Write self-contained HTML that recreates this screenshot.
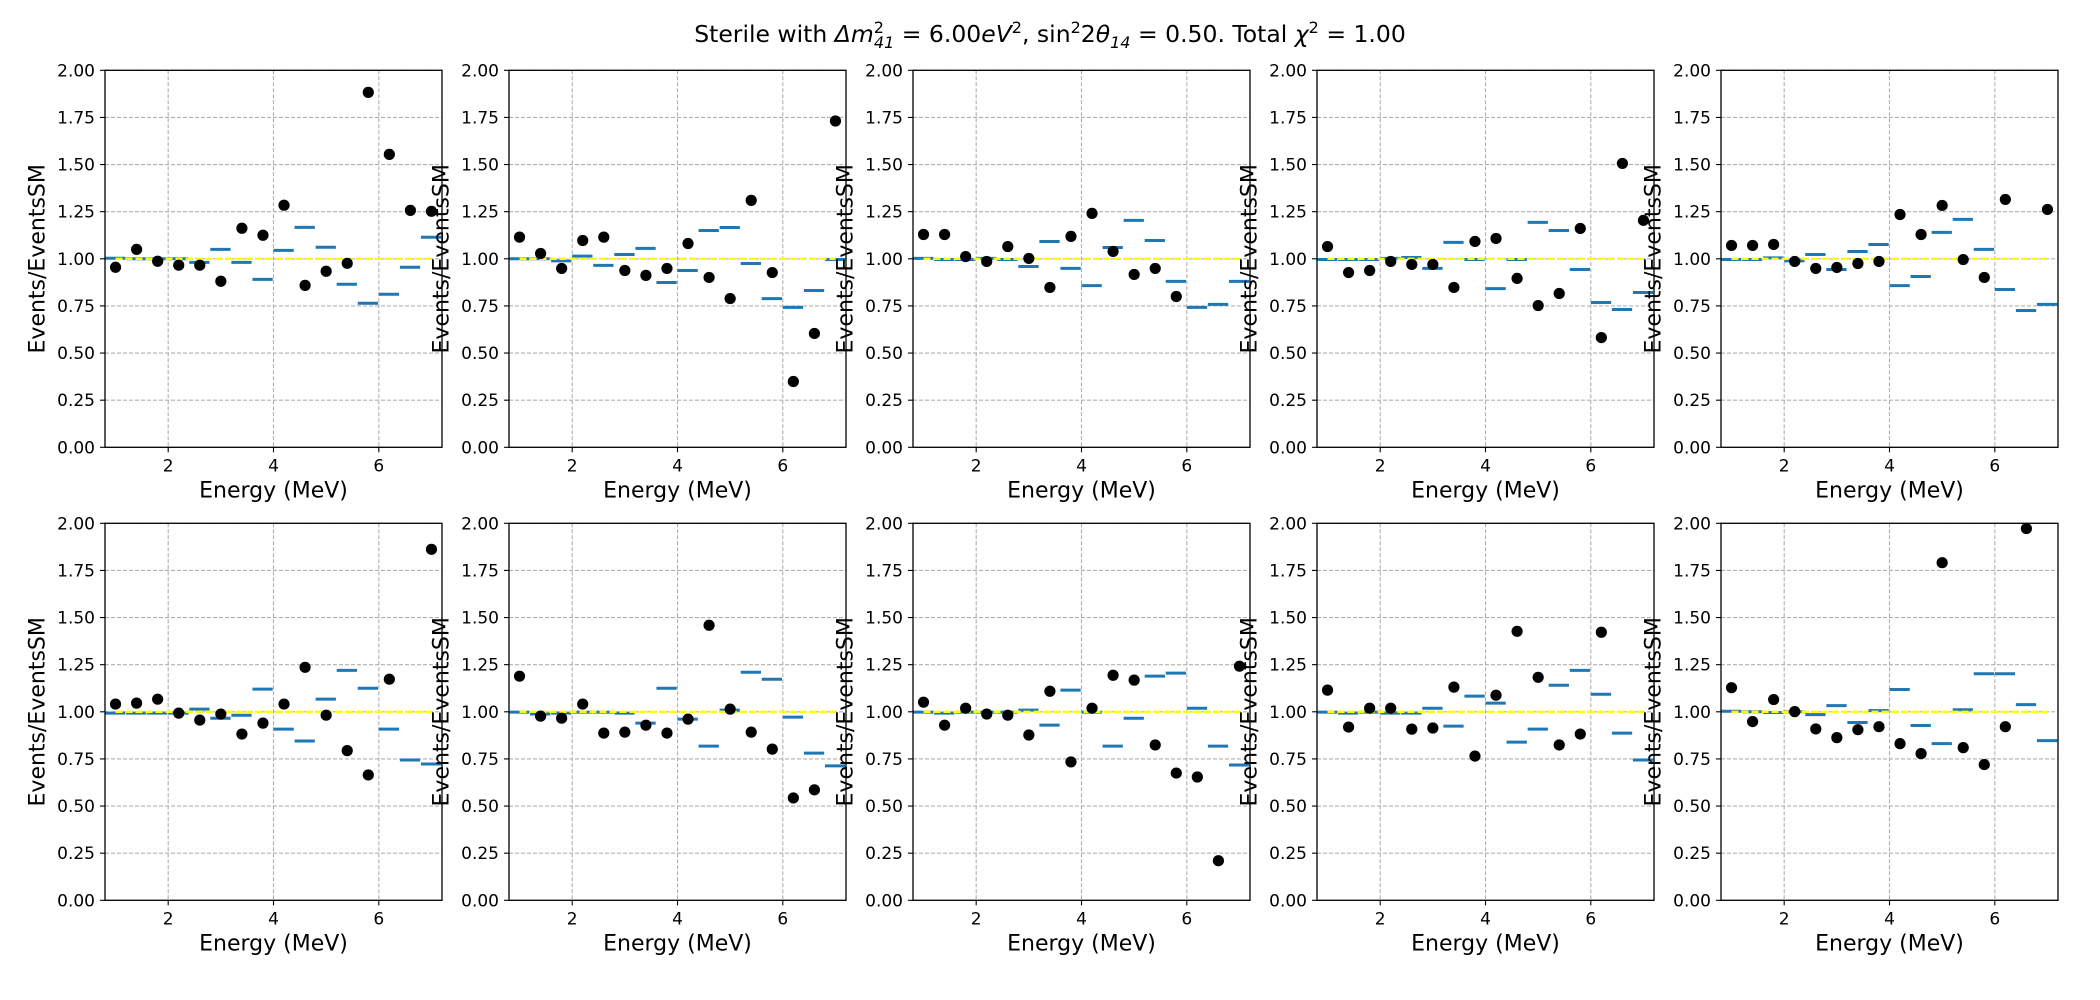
<!DOCTYPE html>
<html><head><meta charset="utf-8"><style>
html,body{margin:0;padding:0;background:#fff;}
svg{display:block;font-family:"DejaVu Sans","Liberation Sans",sans-serif;}
</style></head><body>
<svg id="fig" width="2100" height="1000" viewBox="0 0 2100 1000" xmlns="http://www.w3.org/2000/svg">
<text x="1050" y="42" text-anchor="middle" font-size="23.5" fill="#000">Sterile with <tspan font-style="italic">Δm</tspan><tspan font-size="16" dy="-9">2</tspan><tspan font-size="16" dx="-10" dy="15" font-style="italic">41</tspan><tspan dy="-6"> = 6.00</tspan><tspan font-style="italic">eV</tspan><tspan font-size="16" dy="-9">2</tspan><tspan dy="9">, sin</tspan><tspan font-size="16" dy="-9">2</tspan><tspan dy="9">2</tspan><tspan font-style="italic">θ</tspan><tspan font-size="16" dy="6" font-style="italic">14</tspan><tspan dy="-6"> = 0.50. Total </tspan><tspan font-style="italic">χ</tspan><tspan font-size="16" dy="-9">2</tspan><tspan dy="9"> = 1.00</tspan></text>
</svg>
<script>
const energies = [1.0,1.4,1.8,2.2,2.6,3.0,3.4,3.8,4.2,4.6,5.0,5.4,5.8,6.2,6.6,7.0];
const yTicks = [0,0.25,0.5,0.75,1.0,1.25,1.5,1.75,2.0];
const yTickLabels = ["0.00","0.25","0.50","0.75","1.00","1.25","1.50","1.75","2.00"];
const xTicks = [2,4,6];
const xTickLabels = ["2","4","6"];
const points1 = [0.955,1.05,0.987,0.966,0.966,0.881,1.162,1.125,1.284,0.859,0.934,0.976,1.883,1.554,1.257,1.252];
const model1 = [1.003,1.0,1.0,1.0,0.981,1.05,0.981,0.891,1.045,1.167,1.061,0.865,0.764,0.812,0.955,1.114];
const points2 = [1.115,1.028,0.949,1.097,1.115,0.938,0.912,0.949,1.081,0.901,0.789,1.310,0.927,0.349,0.604,1.731];
const model2 = [1.0,1.0,0.989,1.014,0.965,1.023,1.055,0.874,0.938,1.150,1.166,0.975,0.789,0.742,0.832,0.996];
const points3 = [1.129,1.129,1.012,0.986,1.065,1.002,0.848,1.119,1.241,1.039,0.917,0.949,0.800,null,null,null];
const model3 = [1.002,0.996,0.996,1.002,0.996,0.959,1.092,0.949,0.858,1.060,1.204,1.097,0.880,0.742,0.758,0.880];
const points4 = [1.065,0.927,0.938,0.986,0.970,0.970,0.848,1.092,1.108,0.896,0.752,0.816,1.161,0.582,1.506,1.204];
const model4 = [0.996,0.996,0.996,1.002,1.007,0.949,1.087,0.996,0.842,0.996,1.193,1.150,0.943,0.768,0.731,0.821];
const points5 = [1.071,1.071,1.076,0.986,0.949,0.954,0.975,0.986,1.235,1.129,1.283,0.996,0.901,1.315,null,1.262];
const model5 = [0.996,0.996,1.005,0.989,1.023,0.943,1.039,1.076,0.858,0.906,1.140,1.209,1.050,0.837,0.726,0.758];
const points6 = [1.041,1.046,1.067,0.993,0.956,0.988,0.882,0.940,1.041,1.236,0.982,0.794,0.665,1.173,null,1.862];
const model6 = [0.993,0.993,0.993,0.993,1.014,0.966,0.982,1.120,0.908,0.845,1.067,1.220,1.125,0.908,0.744,0.723];
const points7 = [1.189,0.977,0.966,1.041,0.887,0.892,0.929,0.887,0.961,1.459,1.014,0.892,0.802,0.543,0.586,null];
const model7 = [0.998,0.988,0.993,0.998,0.998,0.993,0.940,1.125,0.961,0.818,1.009,1.210,1.173,0.972,0.781,0.713];
const points8 = [1.051,0.929,1.019,0.988,0.982,0.877,1.109,0.734,1.019,1.194,1.168,0.824,0.675,0.654,0.210,1.242];
const model8 = [0.998,0.993,0.998,0.998,0.998,1.009,0.929,1.115,0.998,0.818,0.966,1.189,1.205,1.019,0.818,0.718];
const points9 = [1.115,0.919,1.019,1.019,0.908,0.914,1.131,0.765,1.088,1.427,1.183,0.824,0.882,1.422,null,null];
const model9 = [0.998,0.993,0.998,0.993,0.993,1.019,0.924,1.083,1.046,0.839,0.908,1.141,1.220,1.093,0.887,0.744];
const points10 = [1.128,0.948,1.065,1.001,0.909,0.863,0.905,0.921,0.831,0.778,1.791,0.810,0.720,0.921,1.972,null];
const model10 = [1.003,1.0,0.996,1.0,0.985,1.033,0.943,1.006,1.118,0.927,0.831,1.011,1.202,1.202,1.038,0.847];
const allPoints = [points1,points2,points3,points4,points5,points6,points7,points8,points9,points10];
const allModels = [model1,model2,model3,model4,model5,model6,model7,model8,model9,model10];
const refLevel = 1.0;

const NS = "http://www.w3.org/2000/svg";
const svg = document.getElementById("fig");
const X0=0.8, X1=7.2, Y0=0, Y1=2;
const PW=337, PH=377;
function mk(tag, attrs, parent){
  const e=document.createElementNS(NS,tag);
  for(const k in attrs) e.setAttribute(k,attrs[k]);
  (parent||svg).appendChild(e); return e;
}
allPoints.forEach((pts,i)=>{
  const col=i%5, row=Math.floor(i/5);
  const L=105+col*404, T=70.3+row*453;
  const sx=v=>L+(v-X0)/(X1-X0)*PW;
  const sy=v=>T+PH-(v-Y0)/(Y1-Y0)*PH;
  const g=mk("g",{});
  
  
  const clipId="clip"+i;
  const cp=mk("clipPath",{id:clipId},g);
  mk("rect",{x:L,y:T,width:PW,height:PH},cp);
  yTicks.forEach((t,k)=>{
    const y=sy(t);
    const gl=mk("line",{x1:L,x2:L+PW,y1:y,y2:y,stroke:"#b0b0b0","stroke-width":1.1,"stroke-dasharray":"4,2"},g);
    
    
    mk("line",{x1:L-5,x2:L,y1:y,y2:y,stroke:"#000","stroke-width":1.1},g);
    const tl=mk("text",{x:L-10,y:y+6,"text-anchor":"end","font-size":17,fill:"#000"},g);
    tl.textContent=yTickLabels[k];
    
    
  });
  xTicks.forEach((t,k)=>{
    const x=sx(t);
    const gl=mk("line",{x1:x,x2:x,y1:T,y2:T+PH,stroke:"#b0b0b0","stroke-width":1.1,"stroke-dasharray":"4,2"},g);
    
    
    mk("line",{x1:x,x2:x,y1:T+PH,y2:T+PH+5,stroke:"#000","stroke-width":1.1},g);
    const tl=mk("text",{x:x,y:T+PH+24,"text-anchor":"middle","font-size":17,fill:"#000"},g);
    tl.textContent=xTickLabels[k];
    
    
  });
  const inner=mk("g",{"clip-path":"url(#"+clipId+")"},g);
  allModels[i].forEach((v,k)=>{
    const b=mk("line",{x1:sx(energies[k]-0.2),x2:sx(energies[k]+0.185),y1:sy(v),y2:sy(v),stroke:"#1f77b4","stroke-width":3},inner);
    
    
  });
  const rl=mk("line",{x1:sx(energies[0]),x2:sx(energies[energies.length-1]),y1:sy(refLevel),y2:sy(refLevel),stroke:"#ffff00","stroke-width":2.4,"stroke-dasharray":"7,3"},inner);
  
  
  pts.forEach((v,k)=>{
    if(v===null) return;
    const c=mk("circle",{cx:sx(energies[k]),cy:sy(v),r:5.6,fill:"#000"},inner);
    
    
  });
  const fr=mk("rect",{x:L,y:T,width:PW,height:PH,fill:"none",stroke:"#000","stroke-width":1.3},g);
  
  
  const xl=mk("text",{x:L+PW/2,y:T+PH+50,"text-anchor":"middle","font-size":22,fill:"#000"},g);
  xl.textContent="Energy (MeV)";
  
  
  const cy=T+PH/2, cx=L-67;
  const yl=mk("text",{x:cx,y:cy,"text-anchor":"middle","dominant-baseline":"central","font-size":22,fill:"#000",transform:"rotate(-90 "+cx+" "+cy+")"},g);
  yl.textContent="Events/EventsSM";
  
  
});
</script>
</body></html>
